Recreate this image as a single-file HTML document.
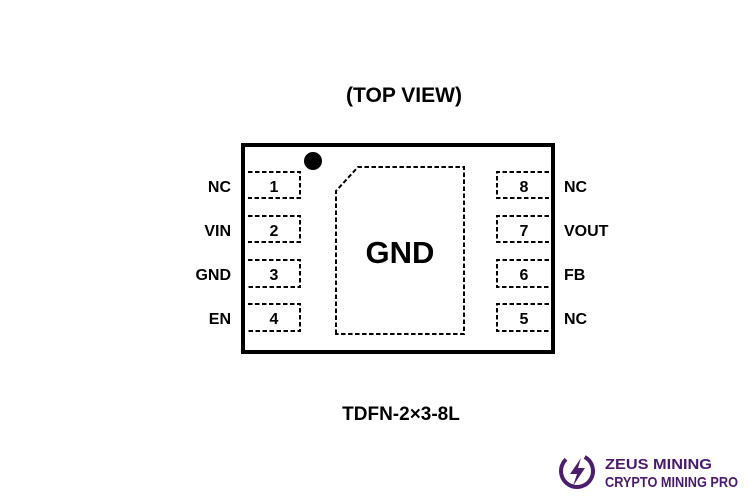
<!DOCTYPE html>
<html><head><meta charset="utf-8"><style>
html,body{margin:0;padding:0;background:#fff;width:750px;height:500px;overflow:hidden}
text{font-family:"Liberation Sans",sans-serif;font-weight:bold}
</style></head><body>
<svg width="750" height="500" viewBox="0 0 750 500" xmlns="http://www.w3.org/2000/svg">
<text x="404" y="102" font-size="21" text-anchor="middle" fill="#000">(TOP VIEW)</text>
<rect x="243" y="145" width="310" height="207" fill="none" stroke="#000" stroke-width="4"/>
<circle cx="313" cy="161" r="9" fill="#000"/>
<g fill="none" stroke="#000" stroke-width="2" stroke-dasharray="4.5,2.5">
<path d="M248 172H300V198H248"/>
<path d="M248 216H300V242H248"/>
<path d="M248 260H300V287H248"/>
<path d="M248 304H300V331H248"/>
<path d="M549 172H497V198H549"/>
<path d="M549 216H497V242H549"/>
<path d="M549 260H497V287H549"/>
<path d="M549 304H497V331H549"/>
<path d="M336 334V191L358 167H464V334Z"/>
</g>
<g font-size="16" fill="#000">
<text x="274" y="192" text-anchor="middle">1</text>
<text x="274" y="236" text-anchor="middle">2</text>
<text x="274" y="280" text-anchor="middle">3</text>
<text x="274" y="324" text-anchor="middle">4</text>
<text x="524" y="192" text-anchor="middle">8</text>
<text x="524" y="236" text-anchor="middle">7</text>
<text x="524" y="280" text-anchor="middle">6</text>
<text x="524" y="324" text-anchor="middle">5</text>
<text x="231" y="192" text-anchor="end">NC</text>
<text x="231" y="236" text-anchor="end">VIN</text>
<text x="231" y="280" text-anchor="end">GND</text>
<text x="231" y="324" text-anchor="end">EN</text>
<text x="564" y="192">NC</text>
<text x="564" y="236">VOUT</text>
<text x="564" y="280">FB</text>
<text x="564" y="324">NC</text>
</g>
<text x="400" y="263" font-size="31" text-anchor="middle" fill="#000">GND</text>
<text x="401" y="420" font-size="19" text-anchor="middle" fill="#000">TDFN-2×3-8L</text>
<circle cx="577" cy="471" r="16" fill="none" stroke="#4b1d6e" stroke-width="4" stroke-dasharray="80,20" transform="rotate(-60 577 471)"/>
<path d="M581 458L570 474H577L573 486L585 468H578Z" fill="#4b1d6e"/>
<g font-size="15" fill="#4a1a6e">
<text x="605" y="469" textLength="107" lengthAdjust="spacingAndGlyphs">ZEUS MINING</text>
<text x="605" y="487" textLength="133" lengthAdjust="spacingAndGlyphs">CRYPTO MINING PRO</text>
</g>
</svg>
</body></html>
